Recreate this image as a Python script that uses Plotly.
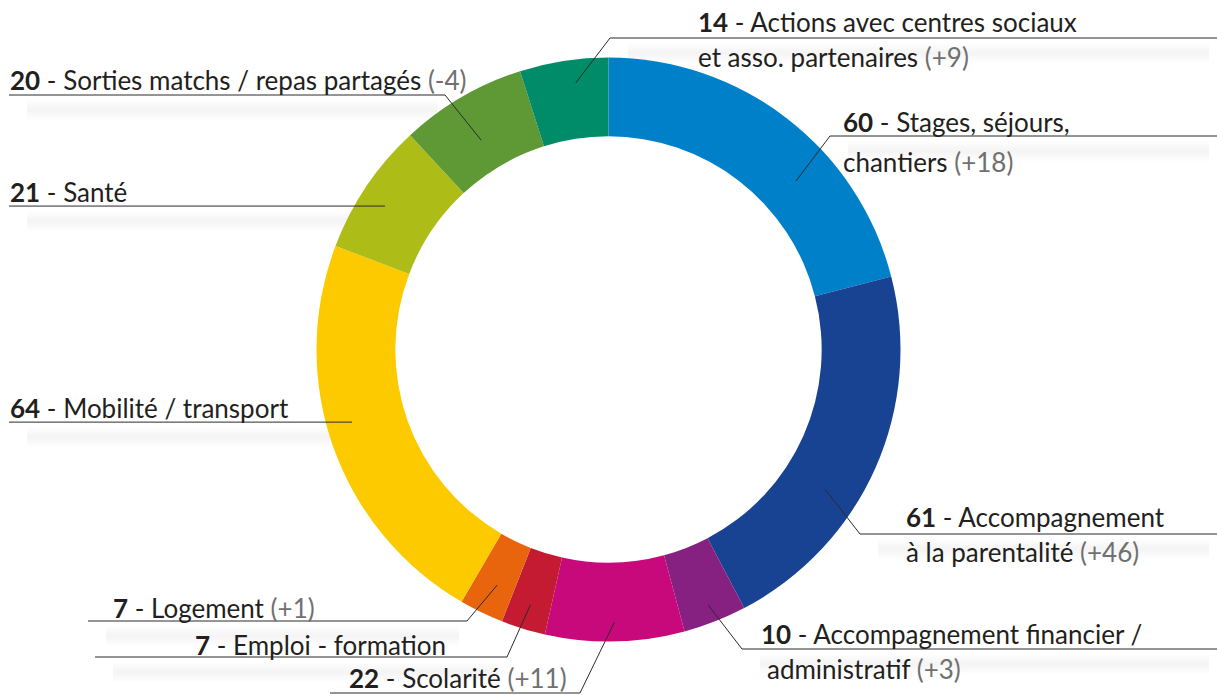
import math
import plotly.graph_objects as go

# slices, clockwise from 12 o'clock
categories = [
    "Stages, séjours, chantiers",
    "Accompagnement à la parentalité",
    "Accompagnement financier / administratif",
    "Scolarité",
    "Emploi - formation",
    "Logement",
    "Mobilité / transport",
    "Santé",
    "Sorties matchs / repas partagés",
    "Actions avec centres sociaux et asso. partenaires",
]
values = [60, 61, 10, 22, 7, 7, 64, 21, 20, 14]
changes = ["+18", "+46", "+3", "+11", "", "+1", "", "", "-4", "+9"]
colors = ["#0080c9", "#184292", "#872181", "#c8097c", "#c41b33",
          "#e8650e", "#fdca00", "#adbc16", "#5e9935", "#008c68"]

W, H = 1217, 695
CX, CY, R = 608.5, 349.5, 292  # donut centre / radius in px
FONT = "Lato"
FSIZE = 26
DARK = "#231f20"
GREY = "#707070"


def px(x):
    return x / W


def py(y):
    return 1 - y / H


# callout layout in px: angle nudge, radius of the leader tip, elbow, far end of
# the underline, text position, words on first line (None = one line)
callouts = [
    dict(off=10.3, r=252, elbow=(830, 136), far=W, tx=(841, 841), ty=(121.7, 161.7), split=2),
    dict(off=8.9, r=257.5, elbow=(860, 534), far=W, tx=(904, 904), ty=(516.7, 551.7), split=1),
    dict(off=0.1, r=274, elbow=(742, 649), far=W, tx=(759, 765), ty=(634, 669), split=3),
    dict(off=0, r=272.6, elbow=(580, 693), far=330, tx=(347,), ty=(678,), split=None),
    dict(off=0, r=267, elbow=(507, 657), far=95, tx=(193,), ty=(645,), split=None),
    dict(off=-0.5, r=260.6, elbow=(467, 621), far=88, tx=(111,), ty=(608,), split=None),
    dict(off=3.7, r=266.5, elbow=None, far=9, tx=(8,), ty=(408,), split=None),
    dict(off=-1.3, r=265.6, elbow=None, far=9, tx=(8,), ty=(191.7,), split=None),
    dict(off=-1.1, r=245, elbow=(445, 95), far=9, tx=(8,), ty=(80,), split=None),
    dict(off=1.8, r=268.5, elbow=(610, 38), far=W, tx=(696, 696), ty=(21.7, 56.7), split=4),
]

fig = go.Figure(go.Pie(
    labels=categories,
    values=values,
    sort=False,
    direction="clockwise",
    rotation=0,
    hole=0.73,
    textinfo="none",
    hoverinfo="label+value",
    marker=dict(colors=colors, line=dict(width=0)),
    showlegend=False,
    domain=dict(x=[px(CX - R), px(CX + R)], y=[py(CY + R), py(CY - R)]),
))

total = sum(values)
cum = 0
shapes = []
annotations = []
for v, name, ch, c in zip(values, categories, changes, callouts):
    mid = (cum + v / 2) / total * 360 + c["off"]
    cum += v
    a = math.radians(mid)
    tip = (CX + c["r"] * math.sin(a), CY - c["r"] * math.cos(a))
    elbow = c["elbow"] if c["elbow"] else tip
    pts = [(c["far"], elbow[1]), elbow, tip]

    # soft blurred shadow under the underline
    x0, x1 = sorted([pts[0][0], pts[1][0]])
    for wdt in (20, 16, 12, 8, 4):
        shapes.append(dict(type="line", xref="paper", yref="paper", layer="below",
                           x0=px(x0 + 18), x1=px(x1 - 8),
                           y0=py(elbow[1] + 15), y1=py(elbow[1] + 15),
                           line=dict(color="rgba(0,0,0,0.007)", width=wdt)))
    path = "M " + " L ".join(f"{px(x)},{py(y)}" for x, y in pts)
    shapes.append(dict(type="path", xref="paper", yref="paper", path=path,
                       line=dict(color="#2b2b2b", width=1)))

    words = name.split(" ")
    tail = f" <span style='color:{GREY}'>({ch})</span>" if ch else ""
    if c["split"]:
        lines = [f"<b>{v}</b> - " + " ".join(words[:c["split"]]),
                 " ".join(words[c["split"]:]) + tail]
    else:
        lines = [f"<b>{v}</b> - {name}" + tail]
    for t, x, y in zip(lines, c["tx"], c["ty"]):
        annotations.append(dict(text=t, x=px(x), y=py(y), xref="paper", yref="paper",
                                xanchor="left", yanchor="middle", showarrow=False,
                                font=dict(family=FONT, size=FSIZE, color=DARK)))

fig.update_layout(
    width=W, height=H,
    margin=dict(l=0, r=0, t=0, b=0),
    paper_bgcolor="white",
    plot_bgcolor="white",
    shapes=shapes,
    annotations=annotations,
)

fig.write_html("out.html", config={"displayModeBar": False},
               post_script="document.body.style.margin='0';")
